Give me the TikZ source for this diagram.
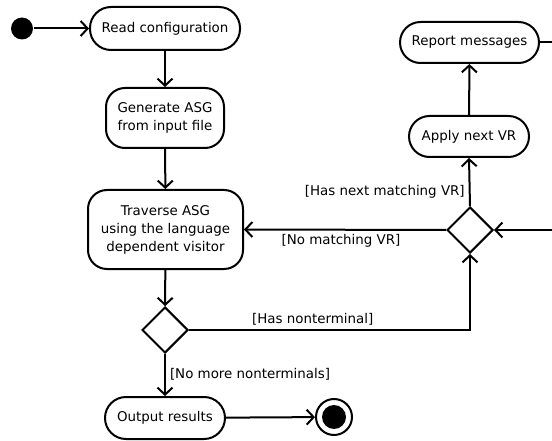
\documentclass[tikz,border=0pt]{standalone}
\usepackage{fontspec}
\setmainfont{DejaVu Sans}
\usetikzlibrary{arrows.meta,shapes.geometric}
\begin{document}
\begin{tikzpicture}[x=1pt,y=-1pt,
  line width=2pt,
  txt/.style={font=\fontsize{13.4}{18}\selectfont},
  act/.style={draw,txt,align=center,inner sep=0pt,rounded corners=#1},
  act/.default=20pt,
  dec/.style={draw,diamond,shape aspect=1,inner sep=0pt,minimum width=46pt,minimum height=46pt},
  flow/.style={-{Straight Barb[length=7pt,width=15pt]}},
  lbl/.style={txt,inner sep=4pt}
]
\clip (0,0) rectangle (552,441);
\node[fill=white] (bg) at (0,0) {};
\node[circle,fill,inner sep=0pt,minimum size=22pt] (start) at (22,28.5) {};
\node[act=21pt,minimum width=150pt,minimum height=43pt] (read) at (165,28.5) {Read configuration};
\node[act=19pt,minimum width=118pt,minimum height=60pt] (gen) at (165,118) {Generate ASG\\from input file};
\node[act=19pt,minimum width=155pt,minimum height=79pt] (trav) at (165.5,229.5) {Traverse ASG\\using the language\\dependent visitor};
\node[dec] (d1) at (165,330) {};
\node[act=21pt,minimum width=120pt,minimum height=42pt] (out) at (165,418) {Output results};
\node[circle,draw,inner sep=0pt,minimum size=36pt,
  path picture={\fill (path picture bounding box.center) circle (12pt);}] (end) at (334,417) {};
\node[act=20.5pt,minimum width=139pt,minimum height=41pt] (rep) at (469.5,42.5) {Report messages};
\node[act=20.5pt,minimum width=120pt,minimum height=41pt] (apply) at (469,136.5) {Apply next VR};
\node[dec] (d2) at (470,230) {};
\coordinate (ra) at (580,42.5);
\coordinate (rb) at (580,230);

\draw[flow] (start) -- (read);
\draw[flow] (read) -- (gen);
\draw[flow] (gen) -- (trav);
\draw[flow] (trav) -- (d1);
\draw[flow] (d1) -- node[lbl,pos=0.48,anchor=west] {[No more nonterminals]} (out);
\draw[flow] (out) -- (end);
\draw[flow] (d1.east) -| node[lbl,pos=0.22,anchor=south] {[Has nonterminal]} (d2.south);
\draw[flow] (d2.west) -- node[lbl,pos=0.52,anchor=north] {[No matching VR]} (trav.east);
\draw[flow] (d2.north) -- node[lbl,pos=0.3,anchor=east] {[Has next matching VR]} (apply.south);
\draw[flow] (apply) -- (rep);
\draw[flow] (rep.east) -- (ra) -- (rb) -- (d2.east);
\end{tikzpicture}
\end{document}
